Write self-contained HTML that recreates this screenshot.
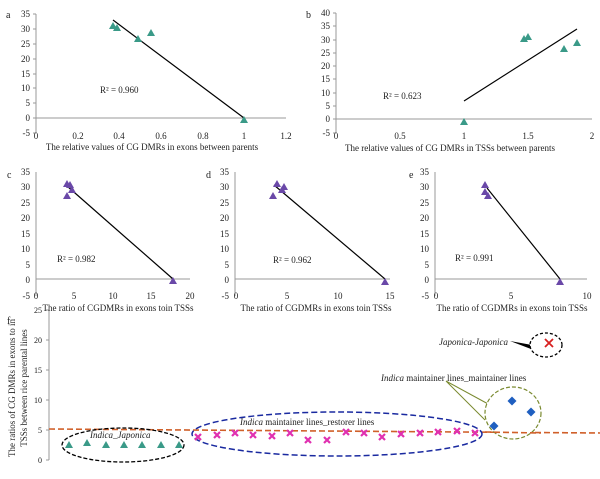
<!DOCTYPE html>
<html><head><meta charset="utf-8"><style>
html,body{margin:0;padding:0;background:#fff;}
svg{display:block;font-family:"Liberation Serif",serif;}
.t{font-size:9px;fill:#222;}
.l{font-size:10px;fill:#222;}
.tt{font-size:9px;fill:#222;}
</style></head><body>
<svg width="600" height="479" viewBox="0 0 600 479">
<defs>
<path id="tri" d="M0,-4 L4,3 L-4,3 Z"/>
<path id="dia" d="M0,-4.5 L4.5,0 L0,4.5 L-4.5,0 Z"/>
<g id="mx"><path d="M-3,-3 L3,3 M3,-3 L-3,3" stroke="#e030b0" stroke-width="2.2"/></g>
</defs>
<g stroke="#999" stroke-width="1" fill="none">
<path d="M36,14 V133 M36,118 H286"/>
<path d="M36,14h-3M36,29h-3M36,44h-3M36,59h-3M36,74h-3M36,88h-3M36,103h-3M36,118h-3M36,133h-3"/>
<path d="M336,13 V133 M336,119 H592"/>
<path d="M336,13h-3M336,26h-3M336,40h-3M336,53h-3M336,66h-3M336,79h-3M336,93h-3M336,106h-3M336,119h-3M336,133h-3"/>
<path d="M36,172 V296 M36,279 H190"/>
<path d="M235,172 V296 M235,279 H390"/>
<path d="M435,172 V296 M435,279 H587"/>
<path d="M49,310 V460"/>
<path d="M49,310h-3M49,340h-3M49,370h-3M49,400h-3M49,430h-3M49,460h-3"/>
</g>
<text class="l" x="6" y="18">a</text>
<g class="t" text-anchor="end">
<text x="30" y="17">35</text><text x="30" y="32">30</text><text x="30" y="47">25</text><text x="30" y="62">20</text><text x="30" y="77">15</text><text x="30" y="91">10</text><text x="30" y="106">5</text><text x="30" y="121">0</text><text x="30" y="136">-5</text>
</g>
<g class="t" text-anchor="middle">
<text x="36" y="139">0</text><text x="78" y="139">0.2</text><text x="119" y="139">0.4</text><text x="161" y="139">0.6</text><text x="203" y="139">0.8</text><text x="244" y="139">1</text><text x="286" y="139">1.2</text>
<text x="152" y="150">The relative values of CG DMRs in exons between parents</text>
</g>
<text class="t" x="100" y="93">R² = 0.960</text>
<line x1="113" y1="20" x2="244" y2="118" stroke="#000" stroke-width="1.2"/>
<g fill="#3a9a88">
<use href="#tri" x="113" y="26"/><use href="#tri" x="117" y="28"/><use href="#tri" x="138" y="39"/><use href="#tri" x="151" y="33"/><use href="#tri" x="244" y="120"/>
</g>
<text class="l" x="306" y="18">b</text>
<g class="t" text-anchor="end">
<text x="330" y="16">40</text><text x="330" y="29">35</text><text x="330" y="43">30</text><text x="330" y="56">25</text><text x="330" y="69">20</text><text x="330" y="82">15</text><text x="330" y="96">10</text><text x="330" y="109">5</text><text x="330" y="122">0</text><text x="330" y="136">-5</text>
</g>
<g class="t" text-anchor="middle">
<text x="336" y="139">0</text><text x="400" y="139">0.5</text><text x="464" y="139">1</text><text x="528" y="139">1.5</text><text x="592" y="139">2</text>
<text x="450" y="151">The relative values of CG DMRs in TSSs  between parents</text>
</g>
<text class="t" x="383" y="99">R² = 0.623</text>
<line x1="464" y1="101" x2="577" y2="29" stroke="#000" stroke-width="1.2"/>
<g fill="#3a9a88">
<use href="#tri" x="464" y="122"/><use href="#tri" x="524" y="39"/><use href="#tri" x="528" y="37"/><use href="#tri" x="564" y="49"/><use href="#tri" x="577" y="43"/>
</g>
<text class="l" x="7" y="178">c</text>
<text class="l" x="206" y="178">d</text>
<text class="l" x="409" y="178">e</text>
<g class="t" text-anchor="end">
<text x="30" y="175">35</text><text x="30" y="190">30</text><text x="30" y="206">25</text><text x="30" y="221">20</text><text x="30" y="237">15</text><text x="30" y="252">10</text><text x="30" y="268">5</text><text x="30" y="283">0</text><text x="30" y="299">-5</text>
<text x="229" y="175">35</text><text x="229" y="190">30</text><text x="229" y="206">25</text><text x="229" y="221">20</text><text x="229" y="237">15</text><text x="229" y="252">10</text><text x="229" y="268">5</text><text x="229" y="283">0</text><text x="229" y="299">-5</text>
<text x="429" y="175">35</text><text x="429" y="190">30</text><text x="429" y="206">25</text><text x="429" y="221">20</text><text x="429" y="237">15</text><text x="429" y="252">10</text><text x="429" y="268">5</text><text x="429" y="283">0</text><text x="429" y="299">-5</text>
</g>
<g class="t" text-anchor="middle">
<text x="36" y="299">0</text><text x="74" y="299">5</text><text x="113" y="299">10</text><text x="151" y="299">15</text><text x="190" y="299">20</text>
<text x="236" y="299">0</text><text x="287" y="299">5</text><text x="338" y="299">10</text><text x="390" y="299">15</text>
<text x="436" y="299">0</text><text x="511" y="299">5</text><text x="587" y="299">10</text>
<text x="118" y="311">The ratio of CGDMRs in exons toin TSSs</text>
<text x="316" y="311">The ratio of CGDMRs in exons toin TSSs</text>
<text x="512" y="311">The ratio of CGDMRs in exons toin TSSs</text>
</g>
<text class="t" x="57" y="262">R² = 0.982</text>
<text class="t" x="273" y="263">R² = 0.962</text>
<text class="t" x="455" y="261">R² = 0.991</text>
<g stroke="#000" stroke-width="1.2">
<line x1="67" y1="186" x2="173" y2="279"/>
<line x1="274" y1="185" x2="385" y2="279"/>
<line x1="487" y1="188" x2="560" y2="279"/>
</g>
<g fill="#6a48a8">
<use href="#tri" x="67" y="184"/><use href="#tri" x="70" y="185"/><use href="#tri" x="72" y="190"/><use href="#tri" x="67" y="196"/><use href="#tri" x="173" y="281"/>
<use href="#tri" x="277" y="184"/><use href="#tri" x="284" y="187"/><use href="#tri" x="282" y="190"/><use href="#tri" x="273" y="196"/><use href="#tri" x="385" y="282"/>
<use href="#tri" x="485" y="185"/><use href="#tri" x="485" y="192"/><use href="#tri" x="488" y="196"/><use href="#tri" x="560" y="282"/>
</g>
<text class="l" x="7" y="324">f</text>
<g class="t" text-anchor="end" style="font-size:8px">
<text x="42" y="313">25</text><text x="42" y="343">20</text><text x="42" y="373">15</text><text x="42" y="403">10</text><text x="42" y="433">5</text><text x="42" y="463">0</text>
</g>
<g class="tt" text-anchor="middle">
<text transform="translate(15,388) rotate(-90)">The ratios of CG DMRs in exons to in</text>
<text transform="translate(27,388) rotate(-90)">TSSs between  rice  parental lines</text>
</g>
<line x1="49" y1="429" x2="600" y2="433" stroke="#d0602a" stroke-width="1.6" stroke-dasharray="6,3"/>
<ellipse cx="123" cy="445" rx="61" ry="17" fill="none" stroke="#000" stroke-width="1.3" stroke-dasharray="4,2"/>
<ellipse cx="337" cy="434" rx="145" ry="22" fill="none" stroke="#1a2aa0" stroke-width="1.5" stroke-dasharray="6,3"/>
<path d="M446,381 L490,405 M446,381 L485,420" stroke="#7a8a30" stroke-width="1"/>
<ellipse cx="513" cy="413" rx="28" ry="26" fill="#fff" stroke="#7a8a30" stroke-width="1.2" stroke-dasharray="4,2"/>
<path d="M510,341 L532,345 L531,349 Z" fill="#000"/>
<ellipse cx="546" cy="345" rx="16" ry="12" fill="#fff" stroke="#000" stroke-width="1.3" stroke-dasharray="3,2"/>
<line x1="485" y1="432" x2="541" y2="433" stroke="#d0602a" stroke-width="1.6" stroke-dasharray="6,3"/>
<g fill="#3a9a88">
<use href="#tri" x="69" y="445"/><use href="#tri" x="87" y="443"/><use href="#tri" x="106" y="445"/><use href="#tri" x="124" y="445"/><use href="#tri" x="142" y="445"/><use href="#tri" x="161" y="445"/><use href="#tri" x="179" y="445"/>
</g>
<g>
<use href="#mx" x="198" y="437"/><use href="#mx" x="217" y="435"/><use href="#mx" x="235" y="433"/><use href="#mx" x="253" y="435"/><use href="#mx" x="272" y="436"/><use href="#mx" x="290" y="433"/><use href="#mx" x="308" y="440"/><use href="#mx" x="327" y="440"/><use href="#mx" x="346" y="432"/><use href="#mx" x="364" y="433"/><use href="#mx" x="382" y="437"/><use href="#mx" x="401" y="434"/><use href="#mx" x="420" y="433"/><use href="#mx" x="438" y="432"/><use href="#mx" x="457" y="431"/><use href="#mx" x="475" y="433"/>
</g>
<g fill="#1f5fc0">
<use href="#dia" x="494" y="426"/><use href="#dia" x="512" y="401"/><use href="#dia" x="531" y="412"/>
</g>
<path d="M545,339 L553,347 M553,339 L545,347" stroke="#d82020" stroke-width="1.8"/>
<g class="t">
<text x="90" y="438"><tspan font-style="italic">Indica_Japonica</tspan></text>
<text x="240" y="425"><tspan font-style="italic">Indica</tspan> maintainer lines_restorer lines</text>
<text x="381" y="381"><tspan font-style="italic">Indica</tspan> maintainer lines_maintainer lines</text>
<text x="508" y="345" text-anchor="end" font-style="italic">Japonica-Japonica</text>
</g>
</svg>
</body></html>
